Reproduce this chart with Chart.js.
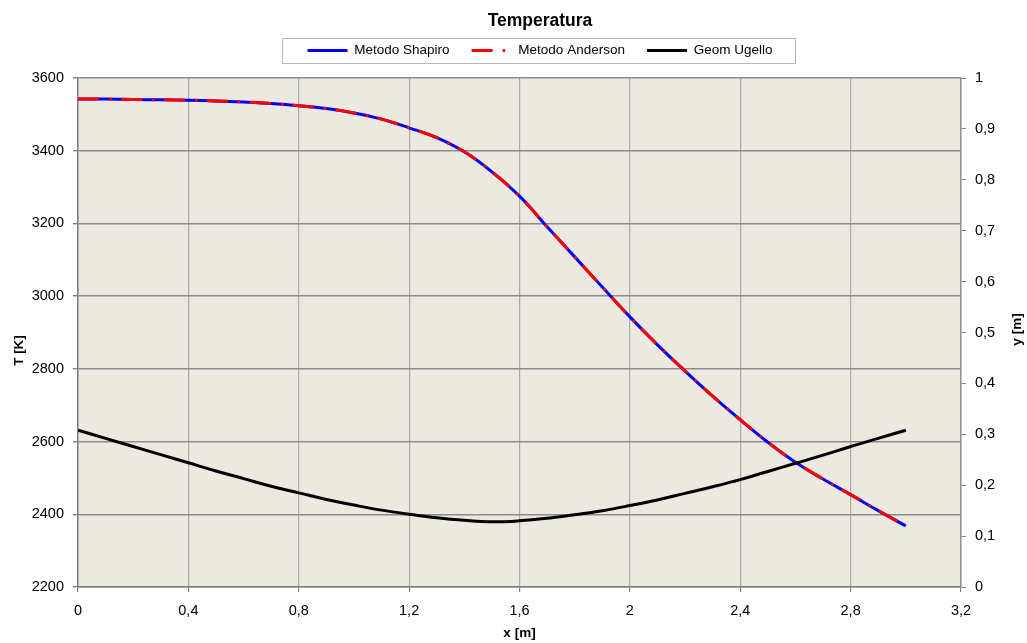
<!DOCTYPE html>
<html><head><meta charset="utf-8">
<script src="https://cdn.jsdelivr.net/npm/chart.js@4/dist/chart.umd.min.js"></script>
<style>html,body{margin:0;padding:0;background:#fff;}</style>
</head><body>
<canvas id="c" width="1027" height="643"></canvas>
<script>
const xValues = [0,0.1,0.2,0.3,0.4,0.5,0.6,0.7,0.8,0.9,1.0,1.1,1.2,1.3,1.4,1.5,1.6,1.7,1.8,1.9,2.0,2.1,2.2,2.3,2.4,2.5,2.6,2.7,2.8,2.9,3.0];
const tShapiro = [3542,3542,3541,3540,3539,3537,3534,3530,3524,3516,3504,3487,3463,3436,3397,3342,3275,3191,3108,3025,2943,2866,2794,2725,2660,2598,2543,2497,2454,2410,2368];
const tAnderson = [3542,3542,3541,3540,3539,3537,3534,3530,3524,3516,3504,3487,3463,3436,3397,3342,3275,3191,3108,3025,2943,2866,2794,2725,2660,2598,2543,2497,2454,2410,2368];
const yGeom = [0.308,0.292,0.276,0.260,0.244,0.228,0.213,0.198,0.185,0.172,0.161,0.151,0.143,0.136,0.131,0.128,0.130,0.135,0.142,0.150,0.160,0.171,0.184,0.197,0.211,0.227,0.243,0.259,0.276,0.292,0.308];
const xTickLabels = ['0','0,4','0,8','1,2','1,6','2','2,4','2,8','3,2'];
const tTickLabels = ['2200','2400','2600','2800','3000','3200','3400','3600'];
const yTickLabels = ['0','0,1','0,2','0,3','0,4','0,5','0,6','0,7','0,8','0,9','1'];
const seriesNames = ['Metodo Shapiro','Metodo Anderson','Geom Ugello'];
const axisTitles = {x: 'x [m]', y: 'T [K]', y2: 'y [m]'};

const pts = (ys) => xValues.map((x, i) => ({x: x, y: ys[i]}));
const FONT = 'Liberation Sans, Arial, sans-serif';

const bgPlugin = {
  id: 'plotBg',
  beforeDraw(chart) {
    const a = chart.chartArea, ctx = chart.ctx;
    ctx.save();
    ctx.fillStyle = '#ECE9E0';
    ctx.fillRect(a.left, a.top, a.right - a.left, a.bottom - a.top);
    ctx.restore();
  }
};
const legendFix = {
  id: 'legendFix',
  afterInit(chart) {
    const lg = chart.legend;
    const orig = lg.fit;
    lg.fit = function() { orig.call(this); this.height += 10.75; };
  },
  afterLayout(chart) {
    chart.titleBlock.left += 53;
    chart.legend.left += 53;
  },
  afterDraw(chart) {
    const hb = chart.legend.legendHitBoxes;
    if (!hb || !hb.length) return;
    let l = Infinity, r = -Infinity, t = Infinity, b = -Infinity;
    hb.forEach(h => { l = Math.min(l, h.left); r = Math.max(r, h.left + h.width); t = Math.min(t, h.top); b = Math.max(b, h.top + h.height); });
    const ctx = chart.ctx;
    ctx.save();
    ctx.strokeStyle = '#b8b8b8';
    ctx.lineWidth = 1;
    ctx.strokeRect(Math.round(l - 26) + 0.5, Math.round(t - 6) + 0.5, Math.round(r - l + 48), Math.round(b - t + 11));
    ctx.restore();
  }
};
const vTitles = {
  id: 'vTitles',
  afterDraw(chart) {
    const a = chart.chartArea, ctx = chart.ctx;
    const mid = (a.top + a.bottom) / 2;
    const draw = (txt, x, y) => {
      ctx.save();
      ctx.translate(x, y);
      ctx.rotate(-Math.PI / 2);
      ctx.font = 'bold 13.5px ' + FONT;
      ctx.fillStyle = '#000';
      ctx.textAlign = 'center';
      ctx.textBaseline = 'middle';
      ctx.fillText(txt, 0, 0);
      ctx.restore();
    };
    draw(axisTitles.y, chart.scales.y.left + 19, mid + 18);
    draw(axisTitles.y2, chart.scales.y2.right - 10, mid - 3);
  }
};

new Chart(document.getElementById('c'), {
  type: 'line',
  data: {
    datasets: [
      {label: seriesNames[0], data: pts(tShapiro), yAxisID: 'y', borderColor: '#0000FF', backgroundColor: '#0000FF', borderWidth: 3, pointRadius: 0, tension: 0.4, order: 3},
      {label: seriesNames[1], data: pts(tAnderson), yAxisID: 'y', borderColor: '#FF0000', backgroundColor: '#FF0000', borderWidth: 3, borderDash: [21, 10, 2.5, 9.5], pointRadius: 0, tension: 0.4, order: 2},
      {label: seriesNames[2], data: pts(yGeom), yAxisID: 'y2', borderColor: '#000000', backgroundColor: '#000000', borderWidth: 3, pointRadius: 0, tension: 0.4, order: 1}
    ]
  },
  options: {
    responsive: false,
    animation: false,
    devicePixelRatio: 1,
    layout: {padding: 0},
    plugins: {
      tooltip: {enabled: false},
      title: {display: true, text: 'Temperatura', color: '#000', font: {family: FONT, size: 17.5, weight: 'bold'}, padding: {top: 10.5, bottom: -9.75}},
      legend: {
        display: true,
        labels: {
          color: '#000', font: {family: FONT, size: 13.5}, padding: 22,
          usePointStyle: true, pointStyle: 'line', pointStyleWidth: 40,
          sort: (a, b) => a.datasetIndex - b.datasetIndex,
          generateLabels: (chart) => Chart.defaults.plugins.legend.labels.generateLabels(chart).map(l => {
            const ds = chart.data.datasets[l.datasetIndex];
            l.lineDash = ds.borderDash || [];
            l.lineWidth = 3;
            l.strokeStyle = ds.borderColor;
            l.pointStyle = 'line';
            return l;
          })
        }
      }
    },
    scales: {
      x: {
        type: 'linear', min: 0, max: 3.2,
        afterFit: (s) => { s.height = 56; },
        ticks: {stepSize: 0.4, autoSkip: false, maxRotation: 0, padding: 10, color: '#000', font: {family: FONT, size: 14.5}, callback: (v, i) => xTickLabels[i]},
        grid: {color: '#ababab', lineWidth: 1.2, tickLength: 5, tickColor: '#808080'},
        border: {display: true, color: '#808080', width: 1.5},
        title: {display: true, text: axisTitles.x, color: '#000', font: {family: FONT, size: 13.5, weight: 'bold'}, padding: {top: 0, bottom: 2}}
      },
      y: {
        type: 'linear', position: 'left', min: 2200, max: 3600,
        afterFit: (s) => { s.width = 78; },
        ticks: {stepSize: 200, padding: 9, color: '#000', font: {family: FONT, size: 14.5}, callback: (v, i) => tTickLabels[i]},
        grid: {color: '#8c8c8c', lineWidth: 1.4, tickLength: 5, tickColor: '#808080'},
        border: {display: true, color: '#808080', width: 1.5}
      },
      y2: {
        type: 'linear', position: 'right', min: 0, max: 1,
        afterFit: (s) => { s.width = 66; },
        ticks: {stepSize: 0.1, padding: 9, color: '#000', font: {family: FONT, size: 14.5}, callback: (v, i) => yTickLabels[i]},
        grid: {drawOnChartArea: false, tickLength: 5, tickColor: '#808080'},
        border: {display: true, color: '#909090', width: 1.5}
      }
    }
  },
  plugins: [bgPlugin, legendFix, vTitles]
});
</script>
</body></html>
